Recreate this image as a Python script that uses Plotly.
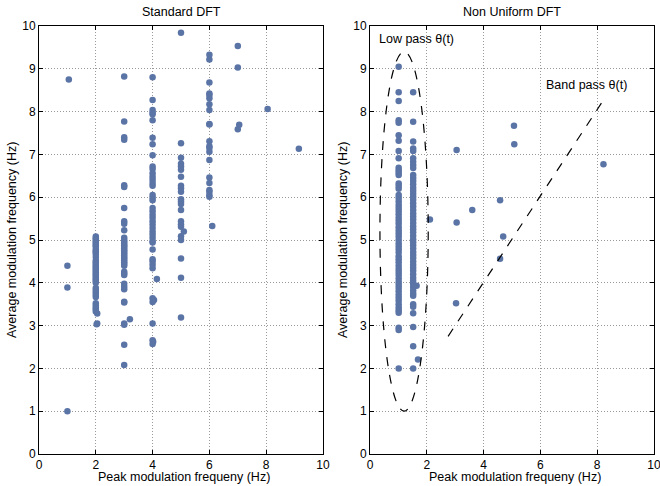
import plotly.graph_objects as go

# ---------------- data: Standard DFT ----------------
std_x = ([1.05, 1.0, 1.0, 1.0]
         + [2.0] * 36 + [2.05, 2.05, 2.03]
         + [3.0] * 35 + [3.2, 3.0, 3.0, 3.0, 3.0]
         + [4.0] * 36 + [4.15, 4.0, 4.05, 4.0, 4.0, 4.0, 4.02, 4.0]
         + [5.0] * 17 + [5.1, 5.0, 5.0, 5.0, 5.0, 5.0]
         + [6.0] * 21 + [6.1]
         + [7.0, 7.0, 7.05, 7.0]
         + [8.05, 9.15])
std_y = ([8.75, 4.40, 3.89, 1.00]
         + [5.08, 5.04, 5.00, 4.96, 4.92, 4.88, 4.84, 4.78, 4.74, 4.70, 4.66, 4.60,
            4.52, 4.48, 4.44, 4.40, 4.36, 4.32, 4.28, 4.24, 4.20, 4.16, 4.12, 4.08,
            4.04, 4.00, 3.88, 3.83, 3.78, 3.72, 3.67, 3.52, 3.47, 3.42, 3.38, 3.33,
            3.28, 3.05, 3.03]
         + [8.82, 7.77, 7.40, 7.34, 6.28, 6.24, 5.75, 5.44, 5.38, 5.23, 5.05, 5.00,
            4.96, 4.92, 4.88, 4.84, 4.80, 4.76, 4.72, 4.68, 4.64, 4.60, 4.56, 4.52,
            4.48, 4.44, 4.40, 4.26, 4.22, 4.18, 3.98, 3.91, 3.85, 3.56, 3.54, 3.15,
            3.05, 3.02, 2.55, 2.08]
         + [8.80, 8.27, 8.04, 7.98, 7.94, 7.80, 7.39, 7.24, 6.98, 6.72, 6.66, 6.56,
            6.48, 6.41, 6.33, 6.27, 6.05, 5.99, 5.93, 5.75, 5.67, 5.59, 5.52, 5.44,
            5.36, 5.28, 5.20, 5.13, 5.05, 4.97, 4.94, 4.78, 4.55, 4.50, 4.42, 4.34,
            4.09, 3.64, 3.60, 3.55, 3.05, 2.66, 2.62, 2.57]
         + [9.84, 7.26, 6.92, 6.78, 6.72, 6.64, 6.48, 6.27, 6.21, 6.13, 5.95, 5.90,
            5.84, 5.70, 5.44, 5.37, 5.31, 5.20, 5.09, 5.00, 4.57, 4.12, 3.19]
         + [9.33, 9.22, 8.68, 8.42, 8.39, 8.31, 8.17, 8.04, 7.71, 7.70, 7.31, 7.19,
            7.15, 7.06, 6.87, 6.46, 6.33, 6.17, 6.13, 6.05, 6.01, 5.33]
         + [9.53, 9.03, 7.69, 7.59]
         + [8.06, 7.13])

# ---------------- data: Non Uniform DFT ----------------
nu_col1_y = [9.05, 8.45, 8.25, 7.80, 7.74, 7.45, 7.32, 7.08, 6.91, 6.69, 6.63, 6.57,
             6.52, 6.32, 6.26, 6.20, 6.05, 5.98, 5.90, 5.82, 5.75, 5.68, 5.60, 5.52,
             5.45, 5.38, 5.30, 5.22, 5.15, 5.08, 5.00, 4.92, 4.85, 4.78, 4.70, 4.62,
             4.55, 4.48, 4.40, 4.32, 4.25, 4.18, 4.10, 4.02, 3.95, 3.88, 3.80, 3.72,
             3.65, 3.58, 3.50, 3.42, 3.36, 3.30, 2.95, 2.90, 2.00]
nu_col2_y = [8.45, 7.76, 7.30, 7.14, 7.08, 6.91, 6.83, 6.75, 6.68, 6.52, 6.45, 6.38,
             6.30, 6.22, 6.15, 6.08, 6.01, 5.94, 5.86, 5.78, 5.70, 5.62, 5.55, 5.48,
             5.40, 5.32, 5.25, 5.18, 5.10, 5.02, 4.95, 4.88, 4.80, 4.72, 4.65, 4.58,
             4.50, 4.42, 4.35, 4.28, 4.20, 4.12, 4.05, 3.98, 3.90, 3.82, 3.75, 3.70,
             3.50, 3.44, 3.29, 2.97, 2.52, 2.00]
nu_other_x = [1.64, 1.69, 2.11, 3.05, 3.05, 3.60, 4.58, 4.69, 5.07, 5.08, 8.22, 3.03, 4.58]
nu_other_y = [3.93, 2.21, 5.48, 7.10, 5.41, 5.70, 5.93, 5.08, 7.67, 7.24, 6.77, 3.52, 4.56]

nu_x = [1.01] * len(nu_col1_y) + [1.52] * len(nu_col2_y) + nu_other_x
nu_y = nu_col1_y + nu_col2_y + nu_other_y

ticks = [0, 2, 4, 6, 8, 10]
yticks = [0, 1, 2, 3, 4, 5, 6, 7, 8, 9, 10]

# annotation geometry (data units)
ellipse = dict(x0=0.35, x1=2.05, y0=1.0, y1=9.4)
band_line = dict(x0=2.75, y0=2.75, x1=8.3, y1=8.35)

FONT = "Liberation Sans, Arial, Helvetica, sans-serif"
MCOL = "#5b74a6"

fig = go.Figure()
fig.add_trace(go.Scatter(x=std_x, y=std_y, mode="markers", xaxis="x", yaxis="y",
                         marker=dict(size=6.5, color=MCOL), showlegend=False))
fig.add_trace(go.Scatter(x=nu_x, y=nu_y, mode="markers", xaxis="x2", yaxis="y2",
                         marker=dict(size=6.5, color=MCOL), showlegend=False))

W, H = 660, 486
px_top, px_bot = 26, 454
ydom = [(H - px_bot) / H, (H - px_top) / H]

axis_common = dict(
    showline=True, linecolor="black", linewidth=1, mirror="ticks",
    ticks="inside", ticklen=4, tickcolor="black", tickwidth=1,
    showgrid=True, gridcolor="#9a9a9a", gridwidth=1, griddash="1px,2px",
    zeroline=False, automargin=False, ticklabeloverflow="allow",
    tickfont=dict(family=FONT, size=12, color="black"),
)

fig.update_layout(
    width=W, height=H,
    margin=dict(l=0, r=0, t=0, b=0),
    paper_bgcolor="white", plot_bgcolor="white",
    font=dict(family=FONT, size=12.5, color="black"),
    xaxis=dict(domain=[39 / W, 323 / W], range=[0, 10], tickvals=ticks, anchor="y", **axis_common),
    yaxis=dict(domain=ydom, range=[0, 10], tickvals=yticks, anchor="x", **axis_common),
    xaxis2=dict(domain=[370 / W, 654 / W], range=[0, 10], tickvals=ticks, anchor="y2", **axis_common),
    yaxis2=dict(domain=ydom, range=[0, 10], tickvals=yticks, anchor="x2", **axis_common),
    shapes=[
        dict(type="circle", xref="x2", yref="y2", line=dict(color="black", width=1.2, dash="dash"),
             **ellipse),
        dict(type="line", xref="x2", yref="y2", line=dict(color="black", width=1.2, dash="dash"),
             **band_line),
    ],
)

ann = [
    dict(text="Standard DFT", x=181 / W, y=1 - 12 / H),
    dict(text="Non Uniform DFT", x=512 / W, y=1 - 12 / H),
    dict(text="Peak modulation frequeny (Hz)", x=184 / W, y=1 - 477 / H),
    dict(text="Peak modulation frequeny (Hz)", x=515 / W, y=1 - 477 / H),
    dict(text="Average modulation frequency (Hz)", x=12 / W, y=1 - 240 / H, textangle=-90),
    dict(text="Average modulation frequency (Hz)", x=343 / W, y=1 - 240 / H, textangle=-90),
]
for a in ann:
    fig.add_annotation(xref="paper", yref="paper", showarrow=False,
                       xanchor="center", yanchor="middle",
                       font=dict(family=FONT, size=12.5, color="black"), **a)

fig.add_annotation(xref="x2", yref="y2", x=1.62, y=9.7, text="Low pass θ(t)", showarrow=False,
                   font=dict(family=FONT, size=12.5, color="black"))
fig.add_annotation(xref="x2", yref="y2", x=7.64, y=8.62, text="Band pass θ(t)", showarrow=False,
                   font=dict(family=FONT, size=12.5, color="black"))

fig.write_html("out.html", config={"displayModeBar": False},
               post_script="document.body.style.margin='0px';")
